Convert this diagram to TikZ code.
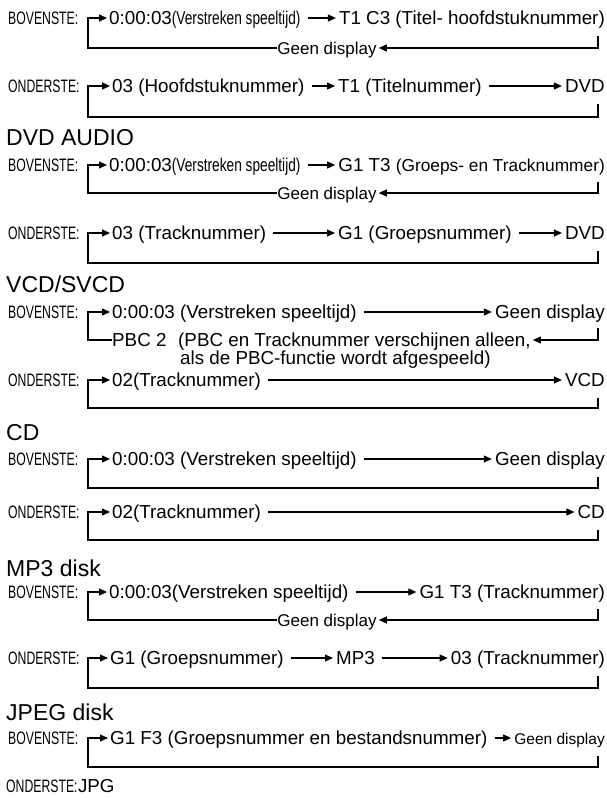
\documentclass[tikz,border=0pt]{standalone}
\usepackage{fontspec}
\setmainfont{Liberation Sans}
\newfontfamily\condfont[FakeStretch=0.68]{Liberation Sans}
\newfontfamily\smfont[FakeStretch=0.74]{Liberation Sans}
\usetikzlibrary{positioning,calc,arrows.meta}
\newcommand*{\sm}[2][18.5]{{\smfont\fontsize{#1}{20}\selectfont#2}}
\newcommand*{\nw}[1]{{\fontsize{17.3}{20}\selectfont#1}}

\begin{document}
\begin{tikzpicture}[x=1pt,y=-1pt,
  txt/.style={font=\fontsize{18.8}{20}\selectfont,inner sep=0pt,
              text height=13.5pt,text depth=0pt,anchor=west},
  sml/.style={txt,font=\fontsize{17}{19}\selectfont,anchor=center},
  lbl/.style={txt,font=\condfont\fontsize{18}{20}\selectfont},
  hdr/.style={txt,font=\fontsize{23}{26}\selectfont,text height=17pt},
  ln/.style={line width=1.1pt},
  arr/.style={ln,-{Triangle[length=8pt,width=7pt]},shorten <=7pt,shorten >=3pt},
  tip/.style={ln,-{Triangle[length=8pt,width=7pt]},shorten >=2pt}]
\useasboundingbox (0,0) rectangle (606,798);
% DVD, bovenste
\node[lbl] (lb1) at (8,18) {BOVENSTE:};
\node[txt] (db1) at (109,18) {0:00:03\sm{(Verstreken speeltijd)}};
\node[txt,anchor=east] (db2) at (605,18) {T1 C3 (Titel- hoofdstuknummer)};
\node[sml] (dg) at (327,48) {Geen display};
\coordinate (dbr) at (598,36);
\coordinate (dbl) at (88,48);
\draw[arr] (db1) -- (db2);
\draw[tip] (dbr) |- (dg);
\draw[tip] (dg) -- (dbl) |- (db1);
% DVD, onderste
\node[lbl] (lo1) at (8,86) {ONDERSTE:};
\node[txt] (do1) at (112,86) {03 (Hoofdstuknummer)};
\node[txt] (do2) at (338,86) {T1 (Titelnummer)};
\node[txt,anchor=east] (do3) at (605,86) {DVD};
\coordinate (dor) at (598,104);
\coordinate (dol) at (88,117);
\draw[arr] (do1) -- (do2);
\draw[arr] (do2) -- (do3);
\draw[tip] (dor) |- (dol) |- (do1);

% DVD AUDIO
\node[hdr] (ha) at (6,137) {DVD AUDIO};
\node[lbl] (lb2) at (8,165) {BOVENSTE:};
\node[txt] (ab1) at (109,165) {0:00:03\sm{(Verstreken speeltijd)}};
\node[txt,anchor=east] (ab2) at (605,165) {G1 T3 \nw{(Groeps- en Tracknummer)}};
\node[sml] (ag) at (327,193) {Geen display};
\coordinate (abr) at (598,182);
\coordinate (abl) at (88,193);
\draw[arr] (ab1) -- (ab2);
\draw[tip] (abr) |- (ag);
\draw[tip] (ag) -- (abl) |- (ab1);
\node[lbl] (lo2) at (8,233) {ONDERSTE:};
\node[txt] (ao1) at (112,233) {03 (Tracknummer)};
\node[txt] (ao2) at (338,233) {G1 (Groepsnummer)};
\node[txt,anchor=east] (ao3) at (605,233) {DVD};
\coordinate (aor) at (598,251);
\coordinate (aol) at (88,263);
\draw[arr] (ao1) -- (ao2);
\draw[arr] (ao2) -- (ao3);
\draw[tip] (aor) |- (aol) |- (ao1);

% VCD/SVCD
\node[hdr] (hv) at (6,284) {VCD/SVCD};
\node[lbl] (lb3) at (8,312) {BOVENSTE:};
\node[txt] (vb1) at (112,312) {0:00:03 (Verstreken speeltijd)};
\node[txt,anchor=east] (vb2) at (605,312) {Geen display};
\node[txt] (pbc) at (112,340) {PBC 2};
\node[txt] (pbcn) at (178,340) {(PBC en Tracknummer verschijnen alleen,};
\node[txt,below=4pt of pbcn.south west,anchor=north west,xshift=2pt] (pbcn2) {als de PBC-functie wordt afgespeeld)};
\coordinate (vbr) at (598,328);
\coordinate (vbl) at (88,340);
\draw[arr] (vb1) -- (vb2);
\draw[tip] (vbr) |- (pbcn);
\draw[tip] (pbc) -- (vbl) |- (vb1);
\node[lbl] (lo3) at (8,380) {ONDERSTE:};
\node[txt] (vo1) at (112,380) {02(Tracknummer)};
\node[txt,anchor=east] (vo2) at (605,380) {VCD};
\coordinate (vor) at (598,398);
\coordinate (vol) at (88,408);
\draw[arr] (vo1) -- (vo2);
\draw[tip] (vor) |- (vol) |- (vo1);

% CD
\node[hdr] (hc) at (6,432) {CD};
\node[lbl] (lb4) at (8,459) {BOVENSTE:};
\node[txt] (cb1) at (112,459) {0:00:03 (Verstreken speeltijd)};
\node[txt,anchor=east] (cb2) at (605,459) {Geen display};
\coordinate (cbr) at (598,477);
\coordinate (cbl) at (88,488);
\draw[arr] (cb1) -- (cb2);
\draw[tip] (cbr) |- (cbl) |- (cb1);
\node[lbl] (lo4) at (8,512) {ONDERSTE:};
\node[txt] (co1) at (112,512) {02(Tracknummer)};
\node[txt,anchor=east] (co2) at (605,512) {CD};
\coordinate (cor) at (598,530);
\coordinate (col) at (88,540);
\draw[arr] (co1) -- (co2);
\draw[tip] (cor) |- (col) |- (co1);

% MP3 disk
\node[hdr] (hm) at (6,568) {MP3 disk};
\node[lbl] (lb5) at (8,592) {BOVENSTE:};
\node[txt] (mb1) at (109,592) {0:00:03(Verstreken speeltijd)};
\node[txt,anchor=east] (mb2) at (605,592) {G1 T3 (Tracknummer)};
\node[sml] (mg) at (327,620) {Geen display};
\coordinate (mbr) at (598,609);
\coordinate (mbl) at (88,620);
\draw[arr] (mb1) -- (mb2);
\draw[tip] (mbr) |- (mg);
\draw[tip] (mg) -- (mbl) |- (mb1);
\node[lbl] (lo5) at (8,658) {ONDERSTE:};
\node[txt] (mo1) at (110,658) {G1 (Groepsnummer)};
\node[txt] (mo2) at (336,658) {MP3};
\node[txt,anchor=east] (mo3) at (605,658) {03 (Tracknummer)};
\coordinate (mor) at (598,676);
\coordinate (mol) at (88,688);
\draw[arr] (mo1) -- (mo2);
\draw[arr] (mo2) -- (mo3);
\draw[tip] (mor) |- (mol) |- (mo1);

% JPEG disk
\node[hdr] (hj) at (6,712) {JPEG disk};
\node[lbl] (lb6) at (8,738) {BOVENSTE:};
\node[txt] (jb1) at (110,738) {G1 F3 (Groepsnummer en bestandsnummer)};
\node[txt,anchor=east,font=\fontsize{15.5}{18}\selectfont] (jb2) at (605,738) {Geen display};
\coordinate (jbr) at (598,756);
\coordinate (jbl) at (88,767);
\draw[arr] (jb1) -- (jb2);
\draw[tip] (jbr) |- (jbl) |- (jb1);
\node[lbl] (lo6) at (6,786) {ONDERSTE:};
\node[txt] (jo1) at (lo6.east) {JPG};
\end{tikzpicture}
\end{document}
